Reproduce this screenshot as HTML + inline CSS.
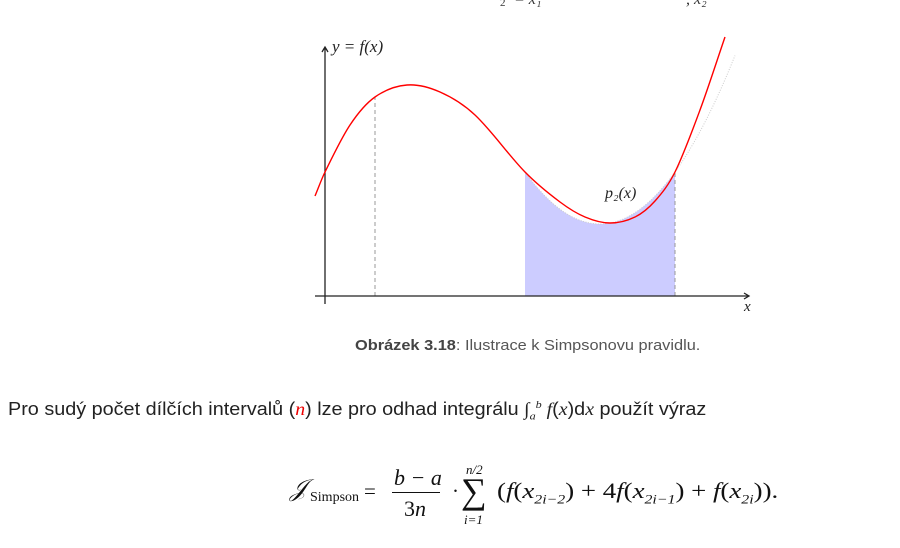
<!DOCTYPE html>
<html><head><meta charset="utf-8"><style>
body{margin:0;width:900px;height:548px;background:#fff;overflow:hidden;position:relative;font-family:"Liberation Sans Narrow","Liberation Sans",sans-serif;}
.abs{position:absolute;white-space:nowrap}
.m{font-family:"Liberation Serif",serif;font-style:italic}
</style></head><body>
<svg width="900" height="548" style="position:absolute;left:0;top:0">
<text x="500" y="6" font-family="Liberation Serif" font-size="11" fill="#333">2</text>
<text x="514" y="4" font-family="Liberation Serif" font-style="italic" font-size="16" fill="#333">= x₁</text>
<text x="686" y="4" font-family="Liberation Serif" font-style="italic" font-size="16" fill="#333">, x₂</text>
<g id="plot"></g>
</svg>
<div class="abs" style="left:355px;top:337px;font-size:15px;color:#555;transform:scaleX(1.09);transform-origin:left"><b style="color:#444">Obrázek 3.18</b>: Ilustrace k Simpsonovu pravidlu.</div>
<div class="abs" style="left:8px;top:399px;font-size:18px;color:#222;transform:scaleX(1.1);transform-origin:left">Pro sudý počet dílčích intervalů (<span class="m" style="color:#e00">n</span>) lze pro odhad integrálu <span class="m">∫<sub style="font-size:11px">a</sub><sup style="font-size:11px">b</sup> f</span>(<span class="m">x</span>)d<span class="m">x</span> použít výraz</div>
<div class="abs" style="left:290px;top:468px;font-family:'Liberation Serif',serif;font-size:21px;color:#111;height:60px">
<span class="abs m" style="left:0;top:8px;font-size:24px">𝒥</span><span class="abs" style="left:20px;top:22px;font-size:14px">Simpson</span>
<span class="abs" style="left:74px;top:11px">=</span>
<span class="abs m" style="left:104px;top:-3px;font-size:22px">b − a</span><span class="abs" style="left:102px;top:24px;width:48px;border-top:1px solid #111"></span><span class="abs" style="left:114px;top:28px;font-size:22px">3<i>n</i></span>
<span class="abs" style="left:162px;top:11px">·</span>
<span class="abs m" style="left:176px;top:-6px;font-size:13px">n/2</span>
<span class="abs" style="left:171px;top:2px;font-size:36px">∑</span>
<span class="abs m" style="left:174px;top:44px;font-size:13px">i=1</span>
<span class="abs" style="left:207px;top:10px;font-size:22px;transform:scaleX(1.22);transform-origin:left">(<i>f</i>(<i>x</i><sub style="font-size:13px"><i>2i−2</i></sub>) + 4<i>f</i>(<i>x</i><sub style="font-size:13px"><i>2i−1</i></sub>) + <i>f</i>(<i>x</i><sub style="font-size:13px"><i>2i</i></sub>)).</span>
</div>
<script>
const fx=[-0.2,0,0.5,1,1.64,2.3,3,4,4.7,5.2,5.7,6.2,6.6,7,7.5,8];
const fy=[2.0,2.48,3.42,3.98,4.22,4.08,3.62,2.48,1.88,1.58,1.46,1.58,1.9,2.48,3.72,5.18];
const pNodesX=[4,5.5,7];
const pNodesY=[2.48,1.44,2.48];
const xs=v=>325+50*v, ys=v=>296-50*v;
const NS='http://www.w3.org/2000/svg', g=document.getElementById('plot');
function mk(t,a){const e=document.createElementNS(NS,t);for(const k in a)e.setAttribute(k,a[k]);g.appendChild(e);return e;}
function p2(x){let s=0;for(let i=0;i<3;i++){let l=1;for(let j=0;j<3;j++)if(j!==i)l*=(x-pNodesX[j])/(pNodesX[i]-pNodesX[j]);s+=pNodesY[i]*l;}return s;}
function spline(X,Y){let d='M'+xs(X[0])+','+ys(Y[0]);for(let i=0;i<X.length-1;i++){const i0=Math.max(i-1,0),i3=Math.min(i+2,X.length-1);
const P=k=>[xs(X[k]),ys(Y[k])];const a=P(i0),b=P(i),c=P(i+1),e=P(i3);
const h=c[0]-b[0];const s1=(c[1]-a[1])/(c[0]-a[0]||1),s2=(e[1]-b[1])/(e[0]-b[0]||1);
d+=' C'+(b[0]+h/3)+','+(b[1]+s1*h/3)+' '+(c[0]-h/3)+','+(c[1]-s2*h/3)+' '+c[0]+','+c[1];}return d;}
let a0=pNodesX[0],a1=pNodesX[2],d='M'+xs(a0)+','+ys(0);
for(let i=0;i<=60;i++){const x=a0+(a1-a0)*i/60;d+=' L'+xs(x)+','+ys(p2(x));}
d+=' L'+xs(a1)+','+ys(0)+'Z';
let e=mk('path',{d:d,fill:'#ccccff'});


let d2='';for(let i=0;i<=60;i++){const x=a0+(8.2-a0)*i/60;d2+=(i?' L':'M')+xs(x)+','+ys(p2(x));}
e=mk('path',{d:d2,fill:'none',stroke:'#ccc','stroke-width':1,'stroke-dasharray':'1 1.5'});


[1,7].forEach(xv=>{const k=fx.indexOf(xv);const l=mk('line',{x1:xs(xv),x2:xs(xv),y1:ys(0),y2:ys(fy[k]),stroke:'#999','stroke-dasharray':'4 3'});

});
e=mk('path',{d:'M315,296 L748,296 M744,293 L749,296 L744,299 M325,304 L325,48 M322,52 L325,47 L328,52',stroke:'#222','stroke-width':1.3,fill:'none'});


e=mk('path',{d:spline(fx,fy),fill:'none',stroke:'#f00','stroke-width':1.4});


function txt(x,y,s,n,sz){const t=mk('text',{x:x,y:y,'font-family':'Liberation Serif','font-style':'italic','font-size':sz||16,fill:'#222'});t.textContent=s;

}
txt(332,52,'y = f(x)','y-axis-label',17);
txt(744,311,'x','x-axis-label',15);
txt(605,198,'p₂(x)','p2-label',16);
</script>
</body></html>
